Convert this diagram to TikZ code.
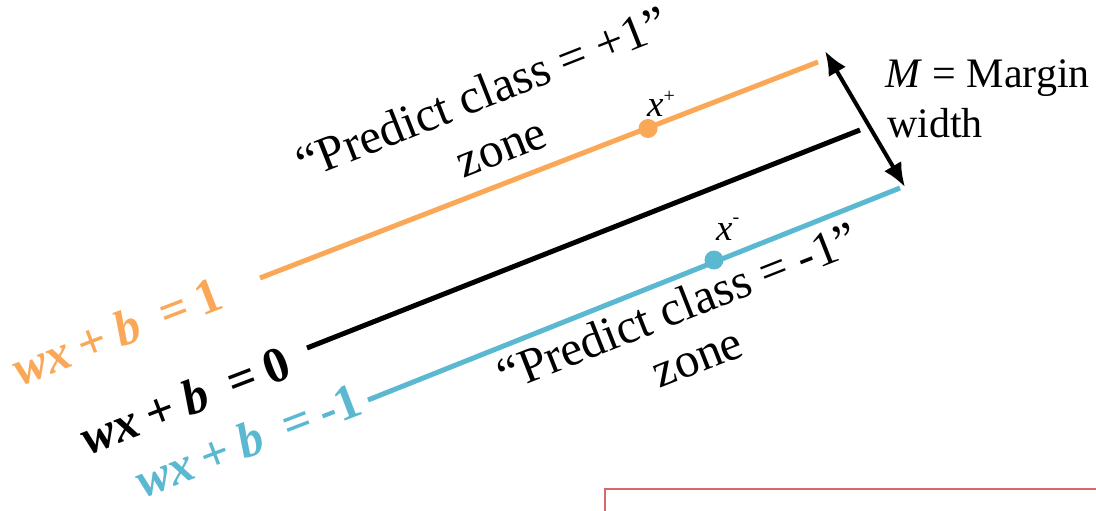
\documentclass[tikz,border=0pt]{standalone}
\usepackage{fontspec}
\setmainfont{Liberation Serif}
\usetikzlibrary{arrows.meta}
\definecolor{org}{HTML}{FAA858}
\definecolor{cyn}{HTML}{5BB8D1}
\definecolor{redbox}{HTML}{D46A6A}
\newcommand{\eqlab}[1]{\textbf{\textit{wx}}\hspace{0.22em}\textbf{+}\hspace{0.22em}\textbf{\textit{b}}\hspace{0.45em}\textbf{=}\hspace{0.22em}\textbf{#1}}
\tikzset{
  hyper/.style={line width=5pt},
  dot/.style={circle, inner sep=0pt, minimum size=19pt},
  zonetext/.style={inner sep=0pt, rotate=21.5, anchor=base, font=\fontsize{49}{55}\selectfont},
  eqtext/.style={inner sep=0pt, rotate=21, anchor=base west, font=\fontsize{50}{54}\selectfont},
  ptlab/.style={inner sep=0pt, anchor=base west, font=\fontsize{37}{40}\selectfont\itshape},
  mlab/.style={inner sep=0pt, anchor=base west, font=\fontsize{42}{48}\selectfont},
}
\begin{document}
\begin{tikzpicture}[x=1pt,y=-1pt]
\clip (0,0) rectangle (1096,511);
\fill[white] (0,0) rectangle (1096,511);
% hyperplanes
\coordinate (o1) at (260,278);
\coordinate (o2) at (818,62);
\coordinate (k1) at (307,348);
\coordinate (k2) at (860,130);
\coordinate (c1) at (368,400);
\coordinate (c2) at (900,188);
\draw[hyper, org] (o1) -- (o2);
\draw[hyper, black] (k1) -- (k2);
\draw[hyper, cyn] (c1) -- (c2);
% support points
\node[dot, fill=org] (xp) at (648,128.5) {};
\node[dot, fill=cyn] (xm) at (714,260) {};
\node[ptlab] (xplab) at (647,117) {x\raisebox{0.4em}{\fontsize{20}{20}\selectfont\upshape +}};
\node[ptlab] (xmlab) at (716,240) {x\raisebox{0.45em}{\fontsize{20}{20}\selectfont\upshape -}};
% margin arrow
\coordinate (mt) at (825,51);
\coordinate (mb) at (905,187);
\draw[line width=4pt, {Latex[length=24pt,width=20pt]}-{Latex[length=24pt,width=20pt]}] (mt) -- (mb);
\node[mlab] (m1) at (885,88) {\textit{M} = Margin};
\node[mlab] (m2) at (887,138) {width};
% zone texts
\node[zonetext] (zp1) at (488,108) {“Predict class = +1”};
\node[zonetext] (zp2) at (507,162) {zone};
\node[zonetext] (zm1) at (684,322) {“Predict class = -1”};
\node[zonetext] (zm2) at (703,372) {zone};
% equation labels
\node[eqtext, text=org] (eq1) at (20,387) {\eqlab{1}};
\node[eqtext, text=black] (eq0) at (88,456) {\eqlab{0}};
\node[eqtext, text=cyn] (eqm) at (143,499) {\eqlab{-1}};
% partial red box
\draw[redbox, line width=2pt] (605,520) -- (605,488.5) -- (1110,488.5);
\end{tikzpicture}
\end{document}
